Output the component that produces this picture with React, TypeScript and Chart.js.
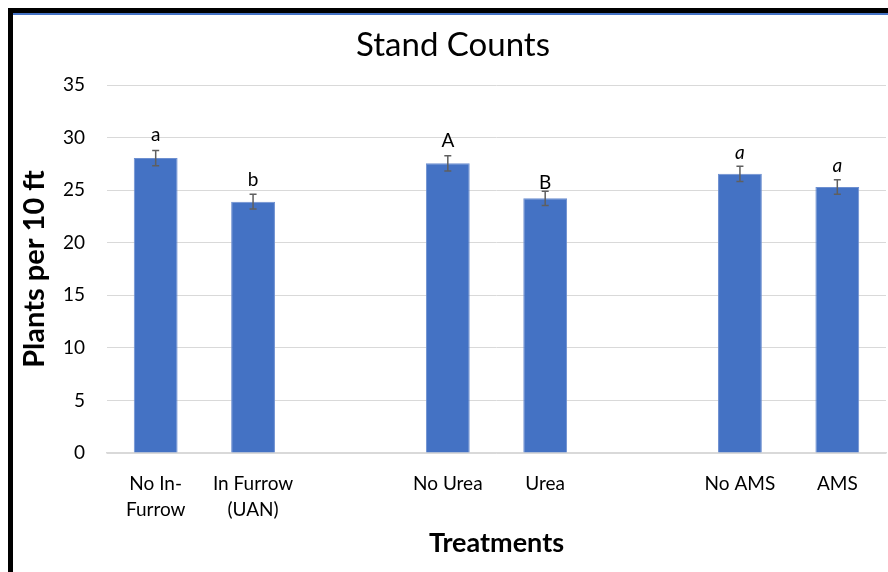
import React, { useEffect, useRef } from "react";
import { Chart, registerables } from "chart.js";

Chart.register(...registerables);

const categories: (string | string[])[] = [
  ["No In-", "Furrow"],
  ["In Furrow", "(UAN)"],
  "",
  "No Urea",
  "Urea",
  "",
  "No AMS",
  "AMS",
];
const standCounts: (number | null)[] = [28.05, 23.9, null, 27.55, 24.22, null, 26.55, 25.3];
const errors: (number | null)[] = [0.72, 0.7, null, 0.72, 0.68, null, 0.73, 0.7];
const letters: string[] = ["a", "b", "", "A", "B", "", "a", "a"];
const letterItalic: boolean[] = [false, false, false, false, false, false, true, true];
const letterPos: (number | null)[] = [30.25, 25.97, null, 29.67, 25.68, null, 28.56, 27.3];
const yTicks = { min: 0, max: 35, step: 5 };

const FONT = "Lato, 'Noto Sans', sans-serif";

export default function App() {
  const ref = useRef<HTMLCanvasElement | null>(null);

  useEffect(() => {
    if (!ref.current) return;
    const extras = {
      id: "extras",
      afterDatasetsDraw(chart: any) {
        const ctx = chart.ctx;
        const meta = chart.getDatasetMeta(0);
        const ys = chart.scales.y;
        ctx.save();
        meta.data.forEach((bar: any, i: number) => {
          const v = standCounts[i];
          const e = errors[i];
          if (v == null || e == null) return;
          const x = bar.x;
          const top = ys.getPixelForValue(v + e);
          const bot = ys.getPixelForValue(v - e);
          ctx.strokeStyle = "#5f5f5f";
          ctx.lineWidth = 1.5;
          ctx.beginPath();
          ctx.moveTo(x, top);
          ctx.lineTo(x, bot);
          ctx.moveTo(x - 3.5, top);
          ctx.lineTo(x + 3.5, top);
          ctx.moveTo(x - 3.5, bot);
          ctx.lineTo(x + 3.5, bot);
          ctx.stroke();
          const lp = letterPos[i];
          if (lp != null && letters[i]) {
            ctx.fillStyle = "#000";
            ctx.font = (letterItalic[i] ? "italic " : "") + "19px " + FONT;
            ctx.textAlign = "center";
            ctx.textBaseline = "middle";
            ctx.fillText(letters[i], x, ys.getPixelForValue(lp));
          }
        });
        ctx.restore();
      },
      afterDraw(chart: any) {
        const ctx = chart.ctx;
        const ca = chart.chartArea;
        ctx.save();
        ctx.fillStyle = "#000";
        ctx.textAlign = "center";
        ctx.textBaseline = "middle";
        ctx.font = "33px " + FONT;
        ctx.fillText("Stand Counts", 440, 30);
        ctx.font = "bold 27px " + FONT;
        ctx.fillText("Treatments", (ca.left + ca.right) / 2, 528);
        ctx.translate(22, (ca.top + ca.bottom) / 2);
        ctx.rotate(-Math.PI / 2);
        ctx.font = "bold 29px " + FONT;
        ctx.fillText("Plants per 10 ft", 0, 0);
        ctx.restore();
      },
    };

    const chart = new Chart(ref.current, {
      type: "bar",
      data: {
        labels: categories,
        datasets: [
          {
            data: standCounts,
            backgroundColor: "#4472C4",
            borderColor: "#6d8fd0",
            borderWidth: 1,
            barPercentage: 0.45,
            categoryPercentage: 1,
            skipNull: false,
          } as any,
        ],
      },
      options: {
        animation: false,
        responsive: false,
        maintainAspectRatio: false,
        layout: { padding: { top: 70, right: 2, left: 0, bottom: 0 } },
        plugins: {
          legend: { display: false },
          title: { display: false },
          tooltip: { enabled: false },
        },
        scales: {
          x: {
            grid: { display: false, drawTicks: false },
            border: { display: true, color: "#d9d9d9", width: 1.5 },
            ticks: {
              color: "#000",
              font: { family: FONT, size: 19, lineHeight: 1.37 },
              padding: 18,
              maxRotation: 0,
              autoSkip: false,
            },
            afterFit(scale: any) {
              scale.height = 119;
            },
          },
          y: {
            min: yTicks.min,
            max: yTicks.max,
            grid: { color: "#d9d9d9", lineWidth: 1, drawTicks: false },
            border: { display: false },
            ticks: {
              stepSize: yTicks.step,
              color: "#000",
              font: { family: FONT, size: 19 },
              padding: 22,
            },
            afterFit(scale: any) {
              scale.width = 94;
            },
          },
        },
      },
      plugins: [extras],
    });
    return () => chart.destroy();
  }, []);

  return (
    <div
      style={{
        position: "absolute",
        left: 8,
        top: 8,
        width: 880,
        height: 564,
        borderTop: "5px solid #000",
        borderLeft: "5px solid #000",
        overflow: "hidden",
        background: "#fff",
      }}
    >
      <div style={{ height: 2, borderTop: "2px solid #4472C4", boxSizing: "border-box" }} />
      <canvas ref={ref} width={875} height={557} style={{ display: "block" }} />
    </div>
  );
}
